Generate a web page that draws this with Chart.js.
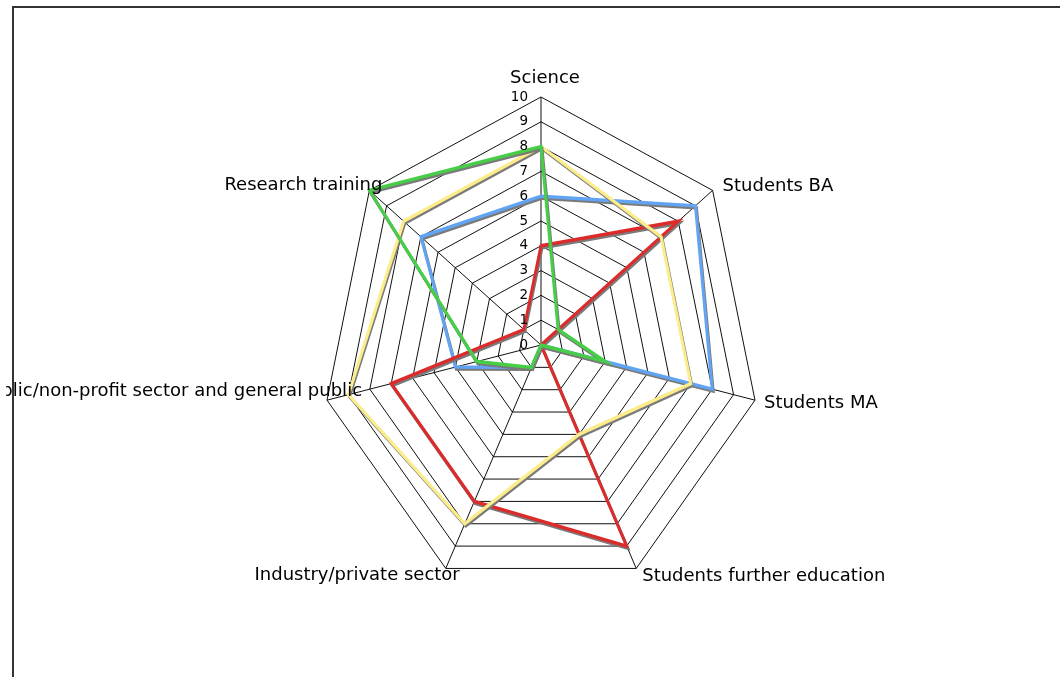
<!DOCTYPE html>
<html>
<head>
<meta charset="utf-8">
<script src="https://cdn.jsdelivr.net/npm/chart.js@4.4.1/dist/chart.umd.min.js"></script>
<style>
  html, body { margin: 0; padding: 0; background: #fff; }
  body { width: 1060px; height: 677px; position: relative; overflow: hidden; }
  #frame { position: absolute; left: 12px; top: 6px; width: 1100px; height: 720px;
           border-left: 2px solid #333; border-top: 2px solid #333; }
  #wrap { position: absolute; left: 0; top: 0; width: 1060px; height: 677px; }
</style>
</head>
<body>
<div id="frame"></div>
<div id="wrap"><canvas id="radar"></canvas></div>
<script>
// Radar data
const categories = [
  'Science',
  'Students BA',
  'Students MA',
  'Students further education',
  'Industry/private sector',
  'Public/non-profit sector and general public',
  'Research training'
];
const blueValues = [6, 9, 8, 0, 1, 4, 7];
const redValues = [4, 8, 0, 9, 7, 7, 1];
const yellowValues = [8, 7, 7, 4, 8, 9, 8];
const greenValues = [8, 1, 3, 0, 1, 3, 10];
const tickLabels = ['0', '1', '2', '3', '4', '5', '6', '7', '8', '9', '10'];

// The original plot is squeezed horizontally, text is not
const squeezeX = 0.885;
const fontFamily = "Verdana, 'DejaVu Sans', sans-serif";

// where each axis label sits relative to its outer vertex (screen px)
const labelPlacement = [
  { align: 'center', dx: 4, dy: -14 },
  { align: 'left', dx: 10, dy: 1 },
  { align: 'left', dx: 9, dy: 8 },
  { align: 'left', dx: 6, dy: 13 },
  { align: 'right', dx: 14, dy: 12 },
  { align: 'right', dx: 35, dy: -4 },
  { align: 'right', dx: 13, dy: 0 }
];

const radarLook = {
  id: 'radarLook',
  beforeDraw(chart) {
    const s = chart.scales.r;
    const ctx = chart.ctx;
    ctx.save();
    ctx.translate(s.xCenter, 0);
    ctx.scale(squeezeX, 1);
    ctx.translate(-s.xCenter, 0);
  },
  beforeDatasetDraw(chart) {
    // grey drop shadow under every series line
    const ctx = chart.ctx;
    ctx.save();
    ctx.shadowColor = '#7a7a7a';
    ctx.shadowOffsetX = 1;
    ctx.shadowOffsetY = 2;
    ctx.shadowBlur = 0;
  },
  afterDatasetDraw(chart) {
    chart.ctx.restore();
  },
  afterDraw(chart) {
    const ctx = chart.ctx;
    ctx.restore();
    const s = chart.scales.r;
    const cx = s.xCenter;

    // tick numbers, right aligned left of the Science axis
    ctx.save();
    ctx.fillStyle = '#000';
    ctx.font = '13.5px ' + fontFamily;
    ctx.textAlign = 'right';
    ctx.textBaseline = 'middle';
    tickLabels.forEach(label => {
      const y = s.yCenter - s.getDistanceFromCenterForValue(Number(label));
      ctx.fillText(label, cx - 13, y);
    });
    ctx.restore();

    // axis labels
    ctx.save();
    ctx.beginPath();
    ctx.rect(6, 0, chart.width - 6, chart.height);
    ctx.clip();
    ctx.fillStyle = '#000';
    ctx.font = '18px ' + fontFamily;
    ctx.textBaseline = 'alphabetic';
    categories.forEach((label, i) => {
      const p = s.getPointPosition(i, s.drawingArea);
      const vx = cx + (p.x - cx) * squeezeX;
      const place = labelPlacement[i];
      ctx.textAlign = place.align;
      ctx.fillText(label, vx + place.dx, p.y + place.dy);
    });
    ctx.restore();
  }
};

function series(data, color, order) {
  return {
    data,
    borderColor: color,
    backgroundColor: color,
    borderWidth: 3.4,
    pointRadius: 0,
    pointHoverRadius: 0,
    fill: false,
    tension: 0,
    clip: false,
    order
  };
}

new Chart(document.getElementById('radar'), {
  type: 'radar',
  data: {
    labels: categories,
    datasets: [
      series(blueValues, '#62a4f4', 4),
      series(redValues, '#dc2b2b', 3),
      series(yellowValues, '#fcec8a', 2),
      series(greenValues, '#46cf46', 1)
    ]
  },
  options: {
    responsive: true,
    maintainAspectRatio: false,
    animation: false,
    layout: {
      padding: { left: 293, right: 271, top: 97, bottom: 84 }
    },
    plugins: {
      legend: { display: false },
      tooltip: { enabled: false }
    },
    scales: {
      r: {
        min: 0,
        max: 10,
        ticks: { stepSize: 1, display: false },
        pointLabels: { display: false },
        grid: { color: '#000', lineWidth: 1 },
        angleLines: { color: '#000', lineWidth: 1 }
      }
    }
  },
  plugins: [radarLook]
});
</script>
</body>
</html>
